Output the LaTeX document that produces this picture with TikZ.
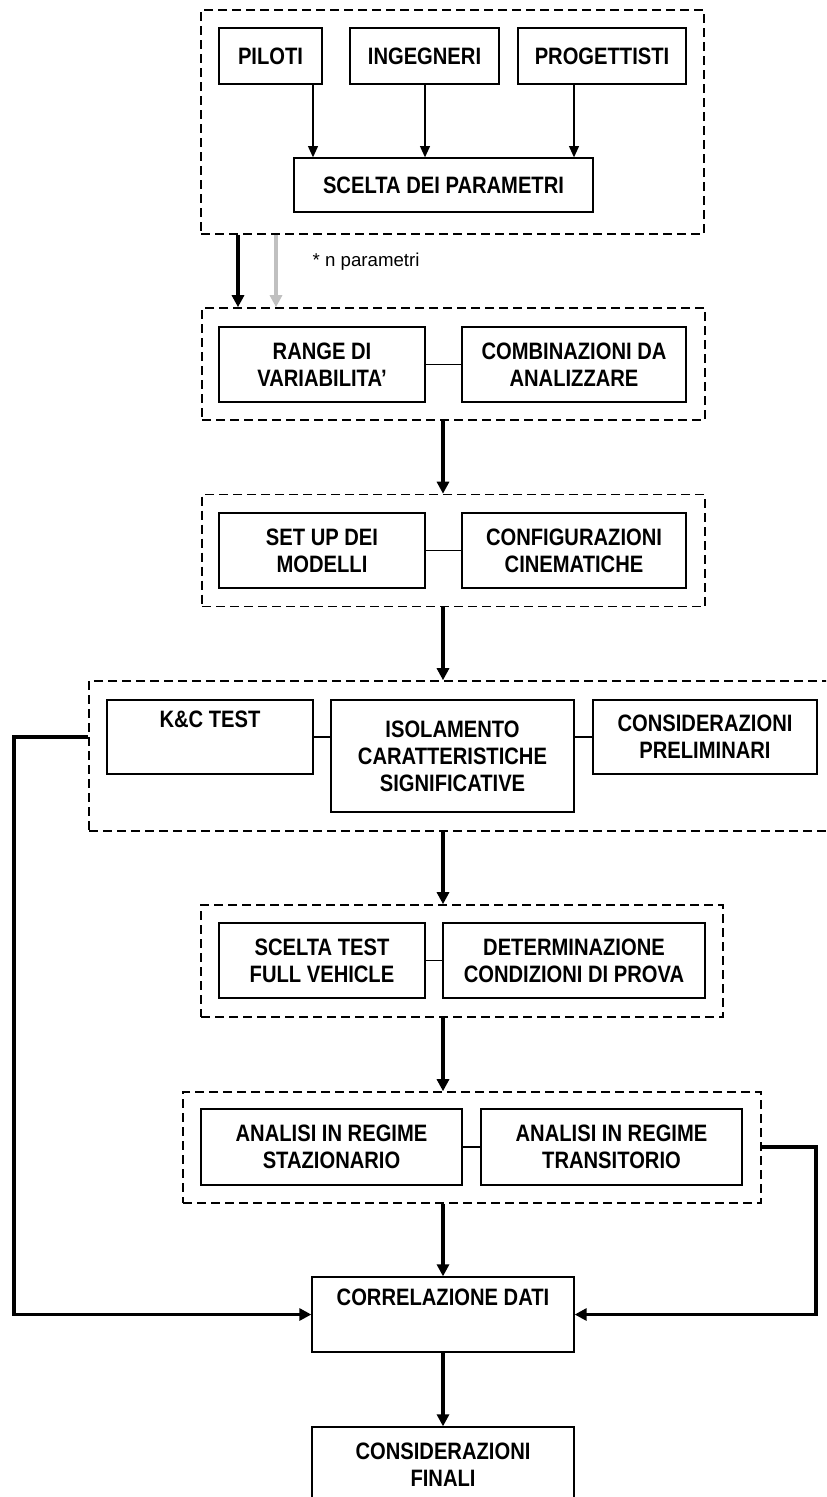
\documentclass[tikz,border=0pt]{standalone}
\usepackage{fontspec}
\setmainfont{Liberation Sans}[FakeStretch=0.85]
\newfontfamily\notafont{Liberation Sans}
\usetikzlibrary{arrows.meta}

\tikzset{
  taglia/.style 2 args={minimum width=#1*0.75pt, minimum height=#2*0.75pt},
  blocco/.style={draw, line width=1pt, align=center, inner sep=0pt,
    font=\fontsize{17.8}{20.25}\selectfont\bfseries},
  gruppo/.style={draw, line width=1.2pt, inner sep=0pt, dash pattern=on 6.75pt off 3.75pt},
  collega/.style={line width=0.8pt},
  freccia/.style={line width=1pt, -{Triangle[width=7.5pt,length=8.5pt]}},
  flusso/.style={line width=2.3pt, -{Triangle[width=9pt,length=9pt]}}
}

\begin{document}
\begin{tikzpicture}[x=0.75pt,y=-0.75pt]

% Colori
\definecolor{grigioFreccia}{HTML}{C0C0C0}

% Area della figura
\useasboundingbox (0,0) rectangle (826,1497);
\clip (0,0) rectangle (826,1497);

% Gruppo 1: scelta dei parametri
\node[gruppo, taglia={503}{224}] (g1) at (452.5,122) {};
\node[blocco, taglia={103}{56}] (piloti) at (270.5,56) {PILOTI};
\node[blocco, taglia={149}{56}] (ingegneri) at (424.5,56) {INGEGNERI};
\node[blocco, taglia={168}{56}] (progettisti) at (602,56) {PROGETTISTI};
\node[blocco, taglia={299}{54}] (parametri) at (443.5,185) {SCELTA DEI PARAMETRI};

\draw[freccia] (313,0 |- piloti.south) -- (313,0 |- parametri.north);
\draw[freccia] (425,0 |- ingegneri.south) -- (425,0 |- parametri.north);
\draw[freccia] (574,0 |- progettisti.south) -- (574,0 |- parametri.north);

% Gruppo 2: range e combinazioni
\node[gruppo, taglia={503}{112}] (g2) at (453.5,364) {};
\node[blocco, taglia={206}{75}] (range) at (322,364.5) {RANGE DI\\VARIABILITA'};
\node[blocco, taglia={224}{75}] (combin) at (574,364.5) {COMBINAZIONI DA\\ANALIZZARE};
\draw[collega] (range) -- (combin);

\draw[flusso] (238,0 |- g1.south) -- (238,0 |- g2.north);
\draw[flusso, grigioFreccia] (276,0 |- g1.south) -- (276,0 |- g2.north);
\node[anchor=west, font=\notafont\fontsize{14}{16}\selectfont] (nota) at (308,262) {* n parametri};

% Gruppo 3: modelli
\node[gruppo, taglia={503}{112}] (g3) at (453.5,550.5) {};
\node[blocco, taglia={206}{75}] (setup) at (322,550.5) {SET UP DEI\\MODELLI};
\node[blocco, taglia={224}{75}] (config) at (574,550.5) {CONFIGURAZIONI\\CINEMATICHE};
\draw[collega] (setup) -- (config);

\draw[flusso] (443,0 |- g2.south) -- (443,0 |- g3.north);

% Gruppo 4: K&C test
\node[gruppo, taglia={751}{150}] (g4) at (464.5,756) {};
\node[blocco, taglia={206}{74}] (kc) at (210,737) {K\&C TEST\\\strut};
\node[blocco, taglia={243}{112}] (isol) at (452.5,756) {ISOLAMENTO\\CARATTERISTICHE\\SIGNIFICATIVE};
\node[blocco, taglia={224}{74}] (prelim) at (705,737) {CONSIDERAZIONI\\PRELIMINARI};
\draw[collega] (kc.east) -- (kc.east -| isol.west);
\draw[collega] (isol.east |- prelim) -- (prelim.west);

\draw[flusso] (443,0 |- g3.south) -- (443,0 |- g4.north);

% Gruppo 5: test full vehicle
\node[gruppo, taglia={522}{112}] (g5) at (462,961) {};
\node[blocco, taglia={206}{75}] (sceltatest) at (322,960.5) {SCELTA TEST\\FULL VEHICLE};
\node[blocco, taglia={262}{75}] (determ) at (574,960.5) {DETERMINAZIONE\\CONDIZIONI DI PROVA};
\draw[collega] (sceltatest) -- (determ);

\draw[flusso] (443,0 |- g4.south) -- (443,0 |- g5.north);

% Gruppo 6: analisi
\node[gruppo, taglia={578}{111}] (g6) at (472,1147.5) {};
\node[blocco, taglia={261}{76}] (staz) at (331.5,1147) {ANALISI IN REGIME\\STAZIONARIO};
\node[blocco, taglia={261}{76}] (trans) at (611.5,1147) {ANALISI IN REGIME\\TRANSITORIO};
\draw[collega] (staz) -- (trans);

\draw[flusso] (443,0 |- g5.south) -- (443,0 |- g6.north);

% Correlazione e considerazioni finali
\node[blocco, taglia={262}{75}] (correl) at (443,1314.5) {CORRELAZIONE DATI\\\strut};
\node[blocco, taglia={262}{75}] (finali) at (443,1464.5) {CONSIDERAZIONI\\FINALI};

\draw[flusso] (443,0 |- g6.south) -- (correl.north);
\draw[flusso] (correl) -- (finali);

% Ritorni laterali
\draw[flusso] (g4.west |- kc) -- (14,0 |- kc) -- (14,0 |- correl) -- (correl.west);
\draw[flusso] (g6.east |- trans) -- (816,0 |- trans) -- (816,0 |- correl) -- (correl.east);

\end{tikzpicture}
\end{document}
